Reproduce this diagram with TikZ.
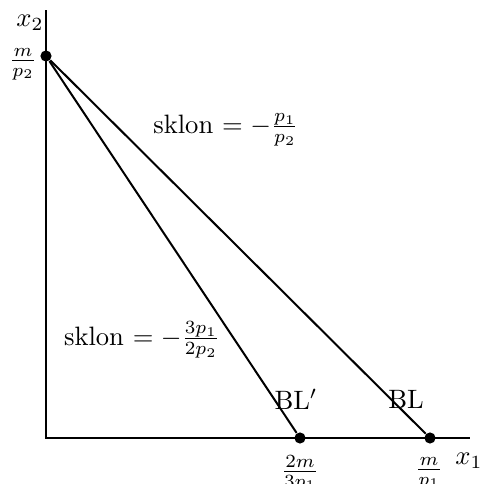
\documentclass[tikz,border=0pt]{standalone}
\begin{document}
\begin{tikzpicture}[x=0.376pt,y=-0.376pt,
  axis/.style={line width=0.8pt},
  budget/.style={line width=0.75pt},
  pt/.style={circle,fill=black,inner sep=0pt,minimum size=4.2pt},
  lbl/.style={inner sep=1pt}]
\useasboundingbox (0,0) rectangle (481,484);
\coordinate (O) at (46,438);
\coordinate (ytop) at (46,10);
\coordinate (xend) at (470,438);
\draw[axis] (ytop) -- (O) -- (xend);
\node[pt] (A) at (46,56) {};
\node[pt] (Bp) at (300,438) {};
\node[pt] (B) at (430,438) {};
\draw[budget] (A) -- (Bp);
\draw[budget] (A) -- (B);
\node[lbl] (x2) at (30,23) {$x_2$};
\node[lbl] (x1) at (469,461) {$x_1$};
\node[lbl] (mp2) at (23,64) {$\frac{m}{p_2}$};
\node[lbl] (l2m) at (300,473) {$\frac{2m}{3p_1}$};
\node[lbl] (lm) at (429,473) {$\frac{m}{p_1}$};
\node[lbl] (blp) at (296,399) {BL$'$};
\node[lbl] (bl) at (406,399) {BL};
\node[lbl] (s1) at (226,130) {sklon $=-\frac{p_1}{p_2}$};
\node[lbl] (s2) at (142,340) {sklon $=-\frac{3p_1}{2p_2}$};
\end{tikzpicture}
\end{document}
